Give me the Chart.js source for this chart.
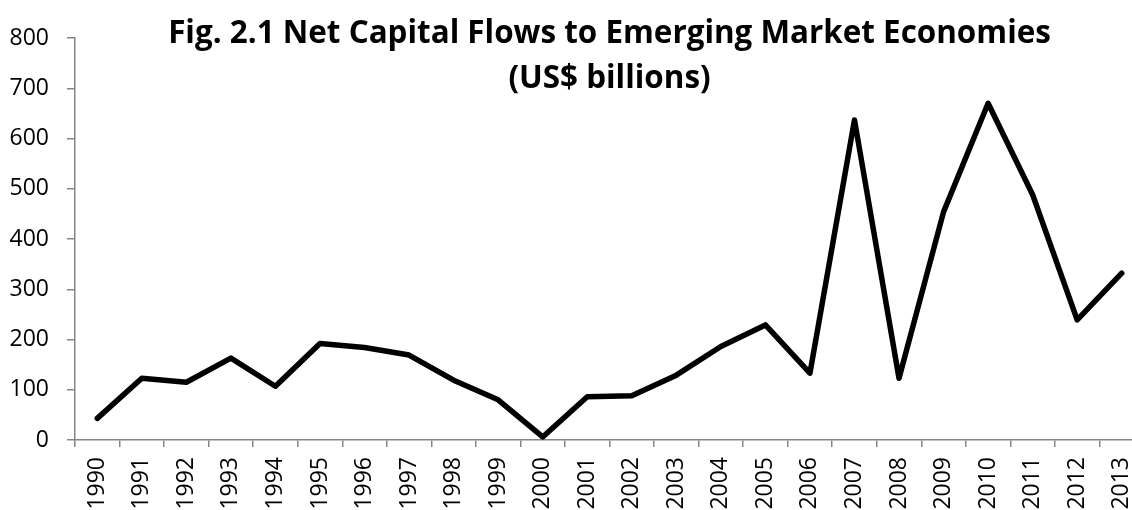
<!DOCTYPE html>
<html>
<head>
<meta charset="utf-8">
<script src="https://cdn.jsdelivr.net/npm/chart.js@4/dist/chart.umd.min.js"></script>
<style>
  html, body { margin: 0; padding: 0; background: #fff; overflow: hidden; }
  #wrap { width: 1144px; height: 510px; position: relative; }
</style>
</head>
<body>
<div id="wrap"><canvas id="c" width="1144" height="510"></canvas></div>
<script>
const years = ['1990','1991','1992','1993','1994','1995','1996','1997','1998','1999','2000','2001','2002','2003','2004','2005','2006','2007','2008','2009','2010','2011','2012','2013'];
const netFlows = [43, 123, 115, 163, 107, 192, 184, 169, 119, 80, 6, 86, 88, 129, 186, 229, 133, 637, 123, 454, 670, 488, 239, 332];
const yTicks = [0, 100, 200, 300, 400, 500, 600, 700, 800];
const titleLines = ['Fig. 2.1 Net Capital Flows to Emerging Market Economies', '(US$ billions)'];

const axisGrey = '#868686';

const titlePlugin = {
  id: 'fixedTitle',
  afterDraw(chart) {
    const ctx = chart.ctx;
    const area = chart.chartArea;
    const cx = (area.left + area.right) / 2;
    ctx.save();
    ctx.fillStyle = '#000';
    ctx.font = 'bold 31.4px "Open Sans"';
    ctx.textAlign = 'center';
    ctx.textBaseline = 'alphabetic';
    ctx.fillText(titleLines[0], cx, 43);
    ctx.fillText(titleLines[1], cx, 88);
    ctx.restore();
  }
};

new Chart(document.getElementById('c'), {
  type: 'line',
  data: {
    labels: years,
    datasets: [{
      data: netFlows,
      borderColor: '#000',
      borderWidth: 5.5,
      pointRadius: 0,
      tension: 0,
      fill: false,
      borderJoinStyle: 'round',
      borderCapStyle: 'round'
    }]
  },
  options: {
    responsive: false,
    animation: false,
    devicePixelRatio: 1,
    layout: { padding: { top: 38, left: 0, right: 0, bottom: 0 } },
    plugins: { legend: { display: false }, title: { display: false }, tooltip: { enabled: false } },
    scales: {
      x: {
        offset: true,
        grid: { offset: true, drawOnChartArea: false, drawTicks: true, tickLength: 7, color: axisGrey, lineWidth: 1.5 },
        border: { color: axisGrey, width: 1.5 },
        ticks: { color: '#000', font: { family: 'Open Sans', size: 23 }, minRotation: 90, maxRotation: 90, padding: 10, autoSkip: false },
        afterFit(s) { s.height = 70; s.paddingRight = 0; s.paddingLeft = 0; }
      },
      y: {
        min: 0, max: 800,
        afterBuildTicks(s) { s.ticks = yTicks.map(v => ({ value: v })); },
        grid: { drawOnChartArea: false, drawTicks: true, tickLength: 8, color: axisGrey, lineWidth: 1.5 },
        border: { color: axisGrey, width: 1.5 },
        ticks: { color: '#000', font: { family: 'Open Sans', size: 23 }, padding: 18 },
        afterFit(s) { s.width = 75; }
      }
    }
  },
  plugins: [titlePlugin]
});
</script>
</body>
</html>
